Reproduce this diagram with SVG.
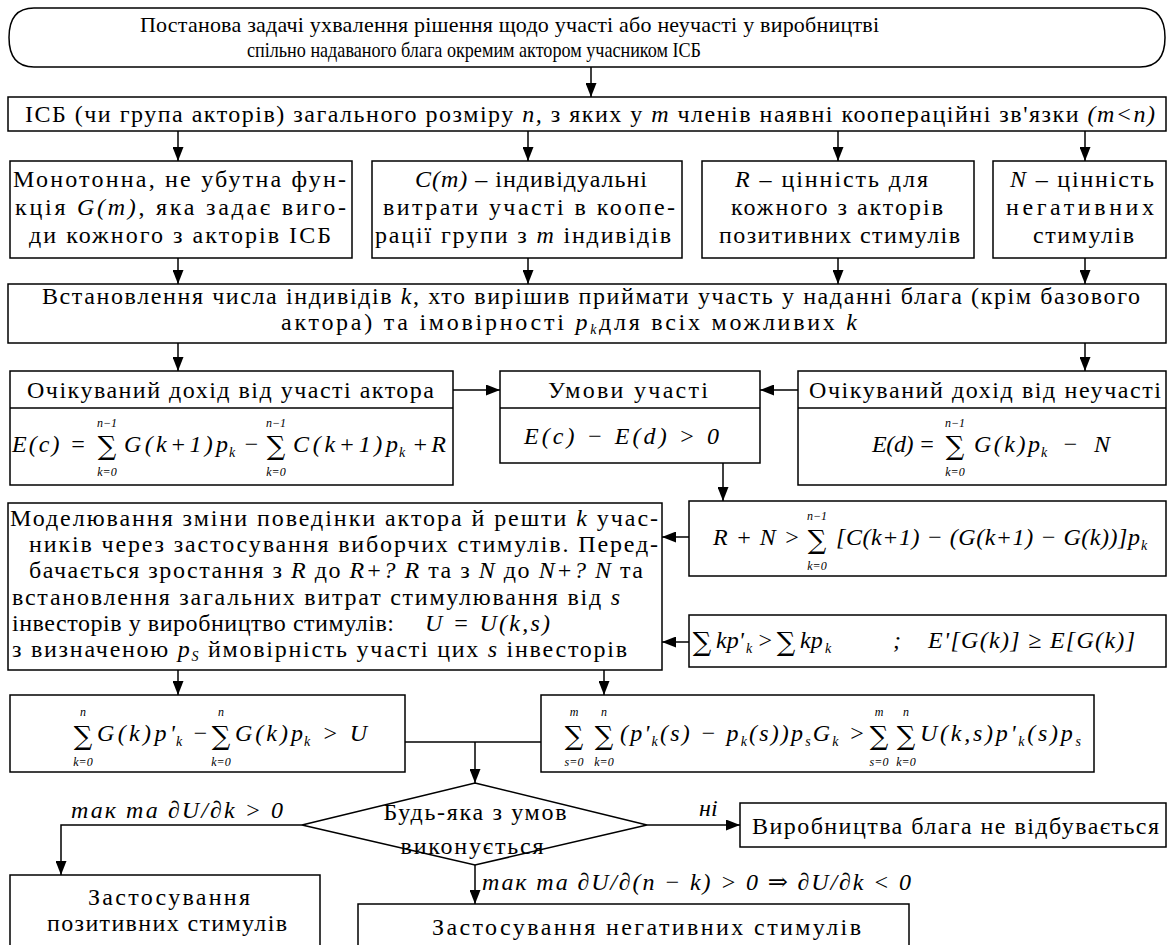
<svg xmlns="http://www.w3.org/2000/svg" width="1170" height="945" viewBox="0 0 1170 945">
<style>
.t{font-family:"Liberation Serif","Times New Roman","DejaVu Serif",serif;font-size:24px;fill:#000}
.s{font-size:22px}
.c{text-anchor:middle}
.i{font-style:italic}
.box{fill:#fff;stroke:#000;stroke-width:1.5}
.ln{stroke:#000;stroke-width:1.5;fill:none}
.ar{stroke:#000;stroke-width:1.5;fill:none;marker-end:url(#ah)}
.m{font-family:"Liberation Serif","Times New Roman","DejaVu Serif",serif;font-style:italic;font-size:24px;fill:#000}
.sig{font-family:"DejaVu Serif",serif;font-size:26px;text-anchor:middle;fill:#000}
.lim{font-family:"Liberation Serif",serif;font-style:italic;font-size:12px;text-anchor:middle;fill:#000}
.sub{font-size:14px}
</style>
<defs>
<marker id="ah" markerUnits="userSpaceOnUse" markerWidth="14" markerHeight="11" refX="14" refY="5.5" orient="auto">
<path d="M0,0 L14,5.5 L0,11 Z" fill="#000"/>
</marker>
</defs>
<rect width="1170" height="945" fill="#fff"/>

<g id="connectors">
<path class="ar" d="M591,67 V97"/>
<path class="ar" d="M178,131 V161"/>
<path class="ar" d="M528,131 V161"/>
<path class="ar" d="M838,131 V161"/>
<path class="ar" d="M1085,131 V161"/>
<path class="ar" d="M178,258 V284"/>
<path class="ar" d="M528,258 V284"/>
<path class="ar" d="M838,258 V284"/>
<path class="ar" d="M1085,258 V284"/>
<path class="ar" d="M178,343 V371"/>
<path class="ar" d="M1085,343 V371"/>
<path class="ar" d="M453,390 H500"/>
<path class="ar" d="M798,390 H760"/>
<path class="ar" d="M723,463 V501"/>
<path class="ar" d="M689,537 H662"/>
<path class="ar" d="M689,642 H662"/>
<path class="ar" d="M178,670 V695"/>
<path class="ar" d="M604,670 V695"/>
<path class="ln" d="M405,742 H541"/>
<path class="ar" d="M475,742 V783"/>
<path class="ar" d="M302,825 H61 V875"/>
<path class="ar" d="M647,825 H740"/>
<path class="ar" d="M475,865 V904"/>
<text class="t i" x="71" y="818" textLength="212" lengthAdjust="spacing">так та ∂U/∂k &gt; 0</text>
<text class="t i" x="699" y="816">ні</text>
<text class="t i" x="482" y="890" textLength="429" lengthAdjust="spacing">так та  ∂U/∂(n − k) &gt; 0 ⇒ ∂U/∂k &lt; 0</text>
</g>

<g id="start">
<path class="box" d="M34,8 H1140 Q1165,8 1165,37.5 Q1165,67 1140,67 H34 Q9,67 9,37.5 Q9,8 34,8 Z"/>
<text class="t s" x="140" y="32" textLength="739" lengthAdjust="spacing">Постанова задачі ухвалення рішення щодо участі або неучасті у виробництві</text>
<text class="t s" x="247" y="57" textLength="454" lengthAdjust="spacingAndGlyphs">спільно надаваного блага окремим актором учасником ІСБ</text>
</g>

<g id="isb">
<rect class="box" x="8" y="97" width="1158" height="34"/>
<text class="t" x="25" y="122" textLength="1130" lengthAdjust="spacing">ІСБ (чи група акторів) загального розміру <tspan class="i">n,</tspan> з яких у <tspan class="i">m</tspan> членів наявні коопераційні зв'язки <tspan class="i">(m&lt;n)</tspan></text>
</g>

<g id="g-func">
<rect class="box" x="10" y="161" width="342" height="97"/>
<text class="t" x="13" y="187" textLength="333" lengthAdjust="spacing">Монотонна, не убутна фун-</text>
<text class="t" x="15" y="215" textLength="331" lengthAdjust="spacing">кція <tspan class="i">G(m)</tspan>, яка задає  виго-</text>
<text class="t" x="29" y="243" textLength="302" lengthAdjust="spacing">ди кожного з акторів ІСБ</text>
</g>

<g id="c-func">
<rect class="box" x="372" y="161" width="310" height="97"/>
<text class="t" x="415" y="187" textLength="232" lengthAdjust="spacing"><tspan class="i">C(m)</tspan> – індивідуальні</text>
<text class="t" x="383" y="215" textLength="292" lengthAdjust="spacing">витрати участі в коопе-</text>
<text class="t" x="375" y="243" textLength="296" lengthAdjust="spacing">рації групи з <tspan class="i">m</tspan> індивідів</text>
</g>

<g id="r-value">
<rect class="box" x="702" y="161" width="272" height="97"/>
<text class="t" x="735" y="187" textLength="193" lengthAdjust="spacing"><tspan class="i">R</tspan> – цінність для</text>
<text class="t" x="731" y="215" textLength="212" lengthAdjust="spacing">кожного з акторів</text>
<text class="t" x="719" y="243" textLength="241" lengthAdjust="spacing">позитивних стимулів</text>
</g>

<g id="n-value">
<rect class="box" x="993" y="161" width="173" height="97"/>
<text class="t" x="1010" y="187" textLength="144" lengthAdjust="spacing"><tspan class="i">N</tspan> – цінність</text>
<text class="t" x="1006" y="215" textLength="148" lengthAdjust="spacing">негативних</text>
<text class="t" x="1033" y="243" textLength="101" lengthAdjust="spacing">стимулів</text>
</g>

<g id="setk">
<rect class="box" x="8" y="284" width="1158" height="59"/>
<text class="t" x="42" y="304" textLength="1098" lengthAdjust="spacing">Встановлення  числа індивідів <tspan class="i">k</tspan>, хто вирішив приймати участь у наданні блага (крім базового</text>
<text class="t" x="281" y="330" textLength="576" lengthAdjust="spacing">актора) та імовірності <tspan class="i">p</tspan><tspan class="i sub" dy="4">k</tspan><tspan dy="-4">для всіх можливих </tspan><tspan class="i">k</tspan></text>
</g>

<g id="income-part">
<rect class="box" x="10" y="371" width="443" height="114"/>
<path class="ln" d="M10,408 H453"/>
<text class="t" x="27" y="398" textLength="407" lengthAdjust="spacing">Очікуваний дохід від участі актора</text>
<text class="m" x="12" y="452" textLength="74" lengthAdjust="spacing">E(c) =</text>
<text class="sig" x="107" y="455">∑</text>
<text class="lim" x="107" y="427">n−1</text>
<text class="lim" x="107" y="476">k=0</text>
<text class="m" x="124" y="452" textLength="104" lengthAdjust="spacing">G(k+1)p</text>
<text class="m sub" x="229" y="457">k</text>
<text class="m" x="243" y="452">−</text>
<text class="sig" x="276" y="455">∑</text>
<text class="lim" x="276" y="427">n−1</text>
<text class="lim" x="276" y="476">k=0</text>
<text class="m" x="293" y="452" textLength="105" lengthAdjust="spacing">C(k+1)p</text>
<text class="m sub" x="399" y="457">k</text>
<text class="m" x="412" y="452" textLength="34" lengthAdjust="spacing">+ R</text>
</g>

<g id="condition">
<rect class="box" x="500" y="371" width="260" height="92"/>
<path class="ln" d="M500,408 H760"/>
<text class="t" x="548" y="398" textLength="160" lengthAdjust="spacing">Умови участі</text>
<text class="m" x="524" y="444" textLength="195" lengthAdjust="spacing">E(c) − E(d) &gt; 0</text>
</g>

<g id="income-nonpart">
<rect class="box" x="798" y="371" width="368" height="114"/>
<path class="ln" d="M798,408 H1166"/>
<text class="t" x="809" y="398" textLength="352" lengthAdjust="spacing">Очікуваний дохід від неучасті</text>
<text class="m" x="872" y="452" textLength="63" lengthAdjust="spacing">E(d) =</text>
<text class="sig" x="955" y="455">∑</text>
<text class="lim" x="955" y="427">n−1</text>
<text class="lim" x="955" y="476">k=0</text>
<text class="m" x="974" y="452" textLength="66" lengthAdjust="spacing">G(k)p</text>
<text class="m sub" x="1041" y="457">k</text>
<text class="m" x="1062" y="452" textLength="48" lengthAdjust="spacing">− N</text>
</g>

<g id="rn-cond">
<rect class="box" x="689" y="501" width="477" height="75"/>
<text class="m" x="713" y="545" textLength="87" lengthAdjust="spacing">R + N &gt;</text>
<text class="sig" x="817" y="549">∑</text>
<text class="lim" x="817" y="520">n−1</text>
<text class="lim" x="817" y="570">k=0</text>
<text class="m" x="836" y="545" textLength="304" lengthAdjust="spacing">[C(k+1) − (G(k+1) − G(k))]p</text>
<text class="m sub" x="1141" y="550">k</text>
</g>

<g id="kp-cond">
<rect class="box" x="689" y="615" width="477" height="52"/>
<text class="sig" x="702" y="651">∑</text>
<text class="m" x="716" y="648">kp'</text>
<text class="m sub" x="746" y="653">k</text>
<text class="m" x="757" y="648">&gt;</text>
<text class="sig" x="786" y="651">∑</text>
<text class="m" x="800" y="648">kp</text>
<text class="m sub" x="825" y="653">k</text>
<text class="m" x="893" y="648">;</text>
<text class="m" x="928" y="648" textLength="207" lengthAdjust="spacing">E'[G(k)] ≥ E[G(k)]</text>
</g>

<g id="modeling">
<rect class="box" x="8" y="503" width="654" height="167"/>
<text class="t" x="10" y="526" textLength="648" lengthAdjust="spacing">Моделювання зміни поведінки актора й решти <tspan class="i">k</tspan> учас-</text>
<text class="t" x="29" y="552" textLength="629" lengthAdjust="spacing">ників через застосування виборчих стимулів. Перед-</text>
<text class="t" x="29" y="578" textLength="614" lengthAdjust="spacing">бачається  зростання з <tspan class="i">R</tspan> до <tspan class="i">R+? R</tspan> та з <tspan class="i">N</tspan> до <tspan class="i">N+? N</tspan> та</text>
<text class="t" x="12" y="605" textLength="608" lengthAdjust="spacing">встановлення загальних витрат стимулювання від <tspan class="i">s</tspan></text>
<text class="t" x="12" y="631" textLength="382" lengthAdjust="spacing">інвесторів у виробництво стимулів:</text>
<text class="m" x="425" y="631" textLength="125" lengthAdjust="spacing">U = U(k,s)</text>
<text class="t" x="12" y="657" textLength="615" lengthAdjust="spacing">з визначеною <tspan class="i">p</tspan><tspan class="i sub" dy="4">S</tspan><tspan dy="-4"> ймовірність участі цих </tspan><tspan class="i">s</tspan> інвесторів</text>
</g>

<g id="cond-pos">
<rect class="box" x="10" y="695" width="395" height="77"/>
<text class="sig" x="83" y="745">∑</text>
<text class="lim" x="83" y="716">n</text>
<text class="lim" x="83" y="766">k=0</text>
<text class="m" x="97" y="741" textLength="78" lengthAdjust="spacing">G(k)p'</text>
<text class="m sub" x="176" y="746">k</text>
<text class="m" x="192" y="741">−</text>
<text class="sig" x="221" y="745">∑</text>
<text class="lim" x="221" y="716">n</text>
<text class="lim" x="221" y="766">k=0</text>
<text class="m" x="235" y="741" textLength="68" lengthAdjust="spacing">G(k)p</text>
<text class="m sub" x="304" y="746">k</text>
<text class="m" x="322" y="741" textLength="45" lengthAdjust="spacing">&gt; U</text>
</g>

<g id="cond-inv">
<rect class="box" x="541" y="695" width="553" height="77"/>
<text class="sig" x="574" y="745">∑</text>
<text class="lim" x="574" y="716">m</text>
<text class="lim" x="574" y="766">s=0</text>
<text class="sig" x="604" y="745">∑</text>
<text class="lim" x="604" y="716">n</text>
<text class="lim" x="604" y="766">k=0</text>
<text class="m" x="620" y="741" textLength="245" lengthAdjust="spacing">(p'<tspan class="sub" dy="5">k</tspan><tspan dy="-5">(s) − p</tspan><tspan class="sub" dy="5">k</tspan><tspan dy="-5">(s))p</tspan><tspan class="sub" dy="5">s</tspan><tspan dy="-5">G</tspan><tspan class="sub" dy="5">k</tspan><tspan dy="-5"> &gt;</tspan></text>
<text class="sig" x="879" y="745">∑</text>
<text class="lim" x="879" y="716">m</text>
<text class="lim" x="879" y="766">s=0</text>
<text class="sig" x="906" y="745">∑</text>
<text class="lim" x="906" y="716">n</text>
<text class="lim" x="906" y="766">k=0</text>
<text class="m" x="920" y="741" textLength="161" lengthAdjust="spacing">U(k,s)p'<tspan class="sub" dy="5">k</tspan><tspan dy="-5">(s)p</tspan><tspan class="sub" dy="5">s</tspan></text>
</g>

<g id="decision">
<path class="box" d="M475,783 L647,825 L475,865 L302,825 Z"/>
<text class="t c" x="475" y="820" textLength="183" lengthAdjust="spacing">Будь-яка з умов</text>
<text class="t c" x="472" y="854" textLength="143" lengthAdjust="spacing">виконується</text>
</g>

<g id="no-prod">
<rect class="box" x="740" y="803" width="426" height="44"/>
<text class="t" x="752" y="834" textLength="407" lengthAdjust="spacing">Виробництва блага не відбувається</text>
</g>

<g id="positive">
<rect class="box" x="10" y="875" width="310" height="80"/>
<text class="t" x="88" y="905" textLength="162" lengthAdjust="spacing">Застосування</text>
<text class="t" x="47" y="931" textLength="240" lengthAdjust="spacing">позитивних стимулів</text>
</g>

<g id="negative">
<rect class="box" x="358" y="904" width="551" height="60"/>
<text class="t" x="432" y="935" textLength="429" lengthAdjust="spacing">Застосування негативних стимулів</text>
</g>
</svg>
